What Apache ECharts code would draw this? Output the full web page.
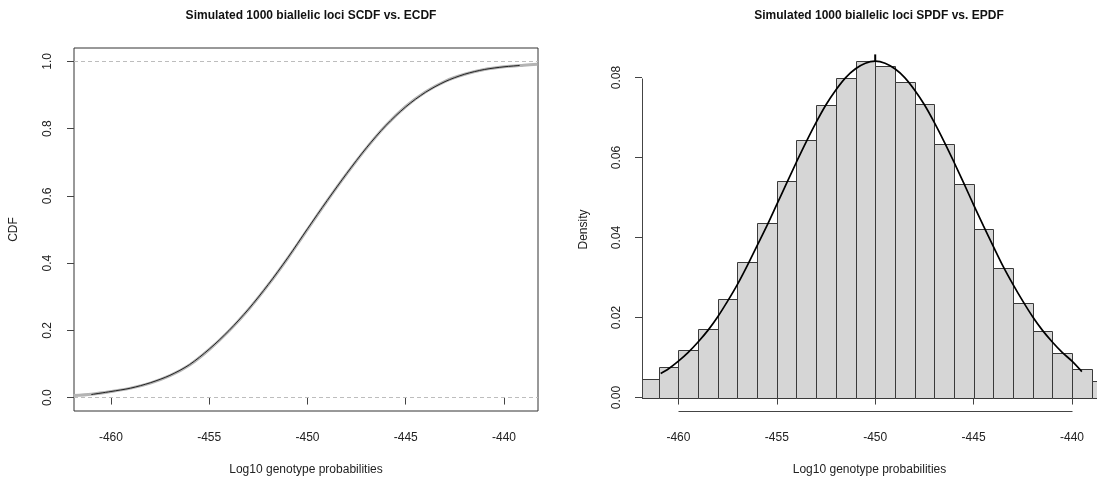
<!DOCTYPE html>
<html>
<head>
<meta charset="utf-8">
<script src="https://cdn.jsdelivr.net/npm/echarts@6/dist/echarts.min.js"></script>
<style>html,body{margin:0;padding:0;background:#fff;}#c{width:1097px;height:481px;}</style>
</head>
<body>
<div id="c"></div>
<script>
// ---- Data ----
const xTicks = [-460, -455, -450, -445, -440];
const cdfTicks = [0, 0.2, 0.4, 0.6, 0.8, 1.0];
const densTicks = [0, 0.02, 0.04, 0.06, 0.08];

// Simulated CDF (gray, wide)
const scdfX = [-461.9, -461, -460, -459, -458, -457, -456, -455, -454, -453, -452, -451, -450, -449, -448, -447, -446, -445, -444, -443, -442, -441, -440, -439, -438.3];
const scdfY = [0.006, 0.010, 0.018, 0.028, 0.043, 0.065, 0.097, 0.143, 0.198, 0.262, 0.335, 0.415, 0.500, 0.585, 0.666, 0.742, 0.810, 0.866, 0.909, 0.941, 0.962, 0.976, 0.984, 0.989, 0.992];
// Empirical CDF (black, thin)
const ecdfX = [-461, -460, -459, -458, -457, -456, -455, -454, -453, -452, -451, -450, -449, -448, -447, -446, -445, -444, -443, -442, -441, -440, -439.2];
const ecdfY = [0.009, 0.018, 0.028, 0.044, 0.066, 0.098, 0.144, 0.199, 0.263, 0.336, 0.416, 0.502, 0.586, 0.667, 0.743, 0.810, 0.865, 0.908, 0.940, 0.962, 0.976, 0.984, 0.988];

// Histogram (density)
const histBreaks = [-462, -461, -460, -459, -458, -457, -456, -455, -454, -453, -452, -451, -450, -449, -448, -447, -446, -445, -444, -443, -442, -441, -440, -439, -438];
const histDensity = [0.0046, 0.00775, 0.0119, 0.01725, 0.02475, 0.0338, 0.04375, 0.0541, 0.0645, 0.0731, 0.0800, 0.0841, 0.0828, 0.0790, 0.0733, 0.0633, 0.0533, 0.0422, 0.0324, 0.0236, 0.0166, 0.0111, 0.0071, 0.00425];

// Simulated PDF curve
const spdfX = [-460.9, -460.5, -460, -459.5, -459, -458.5, -458, -457.5, -457, -456.5, -456, -455.5, -455, -454.5, -454, -453.5, -453, -452.5, -452, -451.5, -451, -450.5, -450, -449.5, -449, -448.5, -448, -447.5, -447, -446.5, -446, -445.5, -445, -444.5, -444, -443.5, -443, -442.5, -442, -441.5, -441, -440.5, -440, -439.5];
const spdfY = [0.0060, 0.0072, 0.0091, 0.0113, 0.0139, 0.0168, 0.0202, 0.0241, 0.0283, 0.0330, 0.0380, 0.0430, 0.0483, 0.0536, 0.0589, 0.0640, 0.0688, 0.0732, 0.0769, 0.0800, 0.0822, 0.0836, 0.0841, 0.0836, 0.0822, 0.0800, 0.0769, 0.0732, 0.0688, 0.0640, 0.0589, 0.0536, 0.0482, 0.0429, 0.0378, 0.0328, 0.0283, 0.0241, 0.0202, 0.0168, 0.0139, 0.0113, 0.0091, 0.0065];
const peakTickX = [-450, -450];
const peakTickY = [0.0841, 0.0858];

// Axis ranges
const x1Min = -461.88, x1Max = -438.27;
const y1Min = -0.04, y1Max = 1.04;
const x2Min = -461.85, x2Max = -438.73;
const y2Min = -0.00336, y2Max = 0.0874;

const zip = (a, b) => a.map((v, i) => [v, b[i]]);
const histData = histDensity.map((d, i) => [histBreaks[i], histBreaks[i + 1], d]);
// segments for R-style axis lines of the right panel: [x0, y0, x1, y1]
const axisSegs = [
  [xTicks[0], y2Min, xTicks[xTicks.length - 1], y2Min],
  [x2Min, densTicks[0], x2Min, densTicks[densTicks.length - 1]]
];

const FONT = 'Liberation Sans, Arial, sans-serif';
const TXT = '#222';
const AX = '#444';

const chart = echarts.init(document.getElementById('c'), null, { renderer: 'canvas' });

const xAxisCommon = (gi, mn, mx) => ({
  type: 'value', gridIndex: gi, min: mn, max: mx,
  axisLine: { show: false },
  splitLine: { show: false },
  axisTick: { show: true, length: 7, customValues: xTicks, lineStyle: { color: AX, width: 1 } },
  axisLabel: { show: true, customValues: xTicks, margin: 21, fontFamily: FONT, fontSize: 12, color: TXT },
  name: 'Log10 genotype probabilities', nameLocation: 'middle', nameGap: 53,
  nameTextStyle: { fontFamily: FONT, fontSize: 12, color: TXT }
});

const snap = v => Math.round(v) + 0.5;

const option = {
  animation: false,
  backgroundColor: '#fff',
  title: [
    { text: 'Simulated 1000 biallelic loci SCDF vs. ECDF', left: 306, top: 5, textAlign: 'center',
      textStyle: { fontFamily: FONT, fontSize: 12, fontWeight: 'bold', color: '#111' } },
    { text: 'Simulated 1000 biallelic loci SPDF vs. EPDF', left: 874, top: 5, textAlign: 'center',
      textStyle: { fontFamily: FONT, fontSize: 12, fontWeight: 'bold', color: '#111' } }
  ],
  grid: [
    { left: 74, top: 48, width: 464, height: 363, show: true, borderColor: '#333', borderWidth: 1, backgroundColor: 'transparent' },
    { left: 642, top: 48, width: 455, height: 363, show: false }
  ],
  xAxis: [xAxisCommon(0, x1Min, x1Max), xAxisCommon(1, x2Min, x2Max)],
  yAxis: [
    { type: 'value', gridIndex: 0, min: y1Min, max: y1Max,
      axisLine: { show: false }, splitLine: { show: false },
      axisTick: { show: true, length: 7, customValues: cdfTicks, lineStyle: { color: AX } },
      axisLabel: { show: true, customValues: cdfTicks, rotate: 90, margin: 20, fontFamily: FONT, fontSize: 12, color: TXT,
        formatter: v => v.toFixed(1) },
      name: 'CDF', nameLocation: 'middle', nameGap: 54, nameRotate: 90,
      nameTextStyle: { fontFamily: FONT, fontSize: 12, color: TXT } },
    { type: 'value', gridIndex: 1, min: y2Min, max: y2Max,
      axisLine: { show: false }, splitLine: { show: false },
      axisTick: { show: true, length: 7, customValues: densTicks, lineStyle: { color: AX } },
      axisLabel: { show: true, customValues: densTicks, rotate: 90, margin: 19, fontFamily: FONT, fontSize: 12, color: TXT,
        formatter: v => v.toFixed(2) },
      name: 'Density', nameLocation: 'middle', nameGap: 52, nameRotate: 90,
      nameTextStyle: { fontFamily: FONT, fontSize: 12, color: TXT } }
  ],
  series: [
    { type: 'line', xAxisIndex: 0, yAxisIndex: 0, data: zip(scdfX, scdfY), smooth: 0.3, symbol: 'none',
      lineStyle: { color: '#b4b4b4', width: 3 }, z: 2,
      markLine: { silent: true, symbol: 'none', label: { show: false },
        lineStyle: { color: '#bdbdbd', type: [4, 3], width: 1 },
        data: [{ yAxis: 0 }, { yAxis: 1 }] } },
    { type: 'line', xAxisIndex: 0, yAxisIndex: 0, data: zip(ecdfX, ecdfY), smooth: 0.3, symbol: 'none',
      lineStyle: { color: '#222', width: 1 }, z: 3 },
    { type: 'custom', xAxisIndex: 1, yAxisIndex: 1, data: histData, clip: true,
      renderItem: function (params, api) {
        const p0 = api.coord([api.value(0), api.value(2)]);
        const p1 = api.coord([api.value(1), 0]);
        const x0 = snap(p0[0]), x1 = snap(p1[0]);
        const y0 = snap(p0[1]), y1 = snap(p1[1]);
        return { type: 'rect', shape: { x: x0, y: y0, width: x1 - x0, height: y1 - y0 },
          style: { fill: '#d6d6d6', stroke: '#3a3a3a', lineWidth: 1 } };
      }, z: 2 },
    { type: 'line', xAxisIndex: 1, yAxisIndex: 1, data: zip(spdfX, spdfY), smooth: 0.3, symbol: 'none',
      lineStyle: { color: '#000', width: 1.7 }, z: 4 },
    { type: 'line', xAxisIndex: 1, yAxisIndex: 1, data: zip(peakTickX, peakTickY), symbol: 'none',
      lineStyle: { color: '#000', width: 2 }, z: 4 },
    { type: 'custom', xAxisIndex: 1, yAxisIndex: 1, data: axisSegs, clip: false, z: 6,
      renderItem: function (params, api) {
        const a = api.coord([api.value(0), api.value(1)]);
        const b = api.coord([api.value(2), api.value(3)]);
        return { type: 'line', shape: { x1: snap(a[0]), y1: snap(a[1]), x2: snap(b[0]), y2: snap(b[1]) },
          style: { stroke: AX, lineWidth: 1 } };
      } }
  ]
};
chart.setOption(option);
</script>
</body>
</html>
